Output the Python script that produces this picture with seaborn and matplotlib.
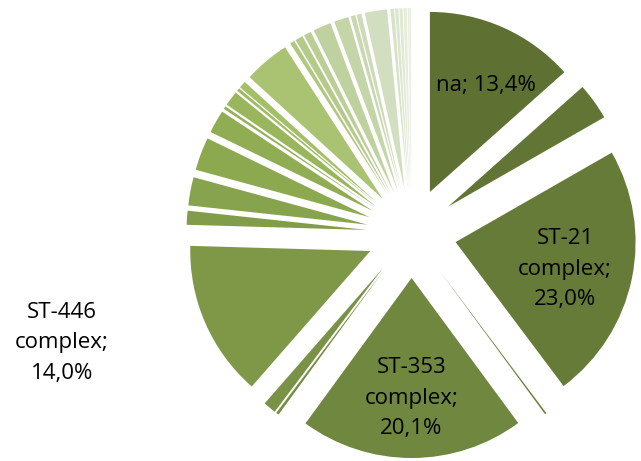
import matplotlib
matplotlib.use("Agg")
import matplotlib.pyplot as plt
import seaborn as sns

# Clonal complex shares (%), clockwise from 12 o'clock
categories = [
    "na", None, "ST-21 complex", None, "ST-353 complex", None, None,
    "ST-446 complex",
    None, None, None, None, None, None, None, None, None, None,
    None, None, None, None, None, None, None, None, None, None, None, None,
]
shares = [
    13.4, 3.3, 23.0, 0.15, 20.1, 0.25, 1.15,
    14.0,
    1.25, 2.53, 2.96, 2.07, 0.25, 1.33, 0.28, 0.64, 4.11, 0.42,
    0.69, 0.67, 1.61, 1.31, 0.42, 0.44, 2.0, 0.33, 0.3, 0.3, 0.3, 0.3,
]

# Label anchor points (data units, pie radius = 1)
label_pos = {
    "na": (0.414, 0.822),
    "ST-21 complex": (0.853, -0.20),
    "ST-353 complex": (0.0, -0.917),
    "ST-446 complex": (-1.942, -0.611),
}

sns.set_theme(style="white")
plt.rcParams["font.family"] = ["Open Sans", "DejaVu Sans"]

palette = sns.blend_palette(
    ["#5e7032", "#748c42", "#8aa74f", "#a0bd62", "#bccf99", "#d3dfc1", "#ebf0e3"],
    n_colors=len(shares),
)

R = 180.0
fig = plt.figure(figsize=(6.41, 4.61), dpi=100)
ax = fig.add_axes([0, 0, 1, 1])
ax.pie(
    shares,
    explode=[0.25] * len(shares),
    startangle=90,
    counterclock=False,
    colors=palette,
    radius=1.0,
    wedgeprops=dict(linewidth=0, antialiased=True),
)
ax.set_xlim(-411.5 / R, 229.5 / R)
ax.set_ylim(-228.0 / R, 233.0 / R)
ax.set_aspect("equal")
ax.axis("off")

total = sum(shares)


def fmt(v):
    return f"{v / total * 100:.1f}%".replace(".", ",")


for name, v in zip(categories, shares):
    if name is None:
        continue
    x, y = label_pos[name]
    if name == "na":
        text = f"{name}; {fmt(v)}"
    else:
        first, second = name.split(" ")
        text = f"{first}\n{second};\n{fmt(v)}"
    ax.text(x, y, text, ha="center", va="center", fontsize=16,
            color="black", linespacing=1.6)

fig.savefig("out.png", dpi=100, facecolor="white")
